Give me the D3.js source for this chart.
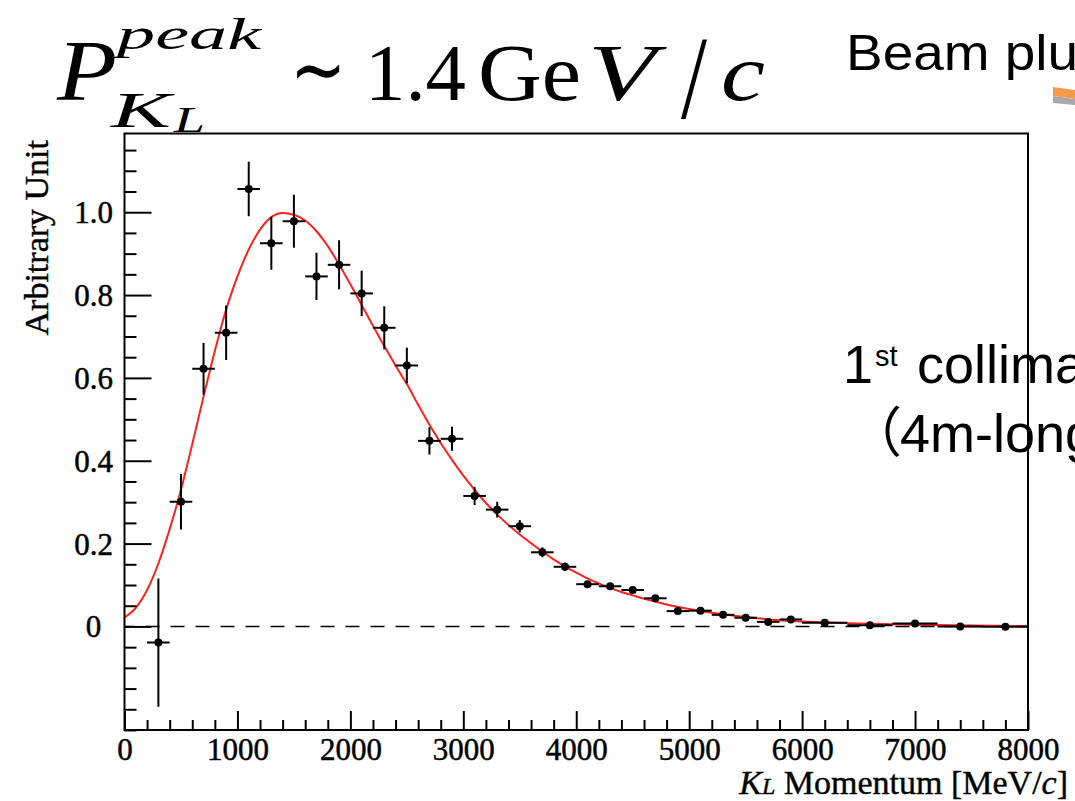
<!DOCTYPE html>
<html>
<head>
<meta charset="utf-8">
<script src="https://cdn.jsdelivr.net/npm/d3@7"></script>
<style>
  html, body { margin: 0; padding: 0; background: #fff; overflow: hidden; }
  svg { display: block; }
</style>
</head>
<body>
<div id="chart"></div>
<script>
// ---------------- data ----------------
const momentum = [300, 500, 700, 900, 1100, 1300, 1500, 1700, 1900, 2100, 2300, 2500,
  2700, 2900, 3100, 3300, 3500, 3700, 3900, 4100, 4300, 4500, 4700, 4900, 5100, 5300,
  5500, 5700, 5900, 6200, 6600, 7000, 7400, 7800];
const binHalfWidth = [100, 100, 100, 100, 100, 100, 100, 100, 100, 100, 100, 100,
  100, 100, 100, 100, 100, 100, 100, 100, 100, 100, 100, 100, 100, 100,
  100, 100, 100, 200, 200, 200, 200, 200];
const yieldValues = [-0.039, 0.301, 0.622, 0.709, 1.056, 0.925, 0.978, 0.845, 0.873, 0.804, 0.721, 0.630,
  0.448, 0.453, 0.315, 0.282, 0.242, 0.179, 0.144, 0.102, 0.097, 0.088, 0.068, 0.037, 0.038, 0.028,
  0.021, 0.011, 0.017, 0.009, 0.003, 0.007, 0.000, -0.001];
const yieldErrors = [0.155, 0.067, 0.062, 0.066, 0.066, 0.064, 0.064, 0.057, 0.059, 0.055, 0.052, 0.043,
  0.033, 0.029, 0.022, 0.019, 0.015, 0.012, 0.010, 0.008, 0.007, 0.007, 0.006, 0.005, 0.005, 0.004,
  0.004, 0.004, 0.004, 0.003, 0.003, 0.003, 0.002, 0.002];

// fitted curve
const fitMomentum = [0, 100, 200, 300, 400, 500, 600, 700, 800, 900, 1000, 1100, 1200, 1300, 1400,
  1500, 1600, 1700, 1800, 1900, 2000, 2100, 2200, 2300, 2400, 2500, 2600, 2700, 2800, 2900,
  3000, 3100, 3200, 3300, 3400, 3500, 3600, 3700, 3800, 3900, 4000, 4100, 4200, 4300, 4400,
  4500, 4600, 4700, 4800, 5000, 5200, 5400, 5600, 5800, 6000, 6500, 7000, 7500, 8000];
const fitValues = [0.022, 0.045, 0.088, 0.152, 0.235, 0.330, 0.440, 0.555, 0.665, 0.765, 0.845, 0.910, 0.958, 0.988, 0.998,
  0.994, 0.980, 0.954, 0.918, 0.874, 0.826, 0.776, 0.726, 0.677, 0.630, 0.585, 0.535, 0.487, 0.443, 0.402,
  0.364, 0.330, 0.298, 0.270, 0.245, 0.222, 0.201, 0.181, 0.162, 0.145, 0.130, 0.116, 0.104, 0.093, 0.083,
  0.075, 0.067, 0.060, 0.053, 0.042, 0.033, 0.026, 0.020, 0.015, 0.012, 0.007, 0.004, 0.002, 0.001];

const xTickValues = [0, 1000, 2000, 3000, 4000, 5000, 6000, 7000, 8000];
const xTickLabels = ["0", "1000", "2000", "3000", "4000", "5000", "6000", "7000", "8000"];
const yTickValues = [0, 0.2, 0.4, 0.6, 0.8, 1.0];
const yTickLabels = ["0", "0.2", "0.4", "0.6", "0.8", "1.0"];

// ---------------- drawing ----------------
const W = 1075, H = 801;
const serif = "'Liberation Serif', 'Times New Roman', serif";
const sans = "'Liberation Sans', Arial, sans-serif";

const svg = d3.select("#chart").append("svg")
  .attr("width", W).attr("height", H).attr("viewBox", `0 0 ${W} ${H}`)
  .style("overflow", "hidden");

const pLeft = 124.5, pRight = 1028, pTop = 133.5, pBottom = 730;
const x = d3.scaleLinear().domain([0, 8000]).range([pLeft, pRight]);
const y = d3.scaleLinear().domain([-0.25, 1.19]).range([pBottom, pTop]);

// ---- slide texts (behind the plot frame) ----
svg.append("text").attr("x", 846).attr("y", 70)
  .attr("font-family", sans).attr("font-size", 50).attr("fill", "#000")
  .attr("textLength", 232).attr("lengthAdjust", "spacingAndGlyphs")
  .text("Beam plu");

svg.append("polygon").attr("points", "1053,87 1075,90 1075,99 1053,96").attr("fill", "#f79a4a");
svg.append("polygon").attr("points", "1053,96 1075,99 1075,105 1053,103").attr("fill", "#a9a9a9");

const coll = svg.append("text").attr("font-family", sans).attr("fill", "#000");
coll.append("tspan").attr("x", 843).attr("y", 383).attr("font-size", 54).text("1");
coll.append("tspan").attr("x", 875).attr("y", 366).attr("font-size", 29).text("st");
coll.append("tspan").attr("x", 917).attr("y", 383).attr("font-size", 54).text("collima");

const coll2 = svg.append("text").attr("fill", "#000").attr("font-size", 54);
coll2.append("tspan").attr("x", 848).attr("y", 452)
  .attr("font-family", "'Noto Sans CJK JP', sans-serif").text("（");
coll2.append("tspan").attr("x", 900).attr("y", 452)
  .attr("font-family", sans).text("4m-long");

// ---- title: P_{K_L}^{peak} ~ 1.4 GeV/c ----
function mathText(str, xx, yy, size, italic, len) {
  const t = svg.append("text").attr("x", xx).attr("y", yy)
    .attr("font-family", serif).attr("font-size", size)
    .attr("font-style", italic ? "italic" : "normal").attr("fill", "#000")
    .text(str);
  if (len) t.attr("textLength", len).attr("lengthAdjust", "spacingAndGlyphs");
  return t;
}
mathText("P", 57, 100, 86, true, 60);
mathText("peak", 117, 49, 44, true, 144);
mathText("K", 111, 127, 50, true, 60);
mathText("L", 174, 132, 36, true, 31);
mathText("∼", 290, 98, 84, false, 56);
mathText("1.4", 365, 100, 81, false, 101);
mathText("Ge", 478, 100, 81, false, 103);
mathText("V", 588, 100, 81, true, 68);
mathText("/", 681, 118, 118, false, 26);
mathText("c", 721, 100, 81, true, 44);

// ---- plot ----
const plot = svg.append("g");
svg.append("clipPath").attr("id", "clip").append("rect")
  .attr("x", pLeft).attr("y", pTop).attr("width", pRight - pLeft).attr("height", pBottom - pTop);

// fitted curve
const line = d3.line().x((d, i) => x(fitMomentum[i])).y(d => y(d)).curve(d3.curveMonotoneX);
plot.append("path").attr("clip-path", "url(#clip)")
  .attr("d", line(fitValues)).attr("fill", "none")
  .attr("stroke", "#ff2020").attr("stroke-width", 2);

// zero dashed line
plot.append("line")
  .attr("x1", x(0)).attr("x2", x(8000)).attr("y1", y(0)).attr("y2", y(0))
  .attr("stroke", "#000").attr("stroke-width", 1.6)
  .attr("stroke-dasharray", "14,11").attr("stroke-dashoffset", 4);

// data points with error bars
const pts = plot.append("g").attr("clip-path", "url(#clip)").selectAll("g")
  .data(momentum.map((m, i) => ({ m, v: yieldValues[i], e: yieldErrors[i], hw: binHalfWidth[i] })))
  .join("g");
pts.append("line")
  .attr("x1", d => x(d.m)).attr("x2", d => x(d.m))
  .attr("y1", d => y(d.v - d.e)).attr("y2", d => y(d.v + d.e))
  .attr("stroke", "#000").attr("stroke-width", 2);
pts.append("line")
  .attr("x1", d => x(d.m - d.hw)).attr("x2", d => x(d.m + d.hw))
  .attr("y1", d => y(d.v)).attr("y2", d => y(d.v))
  .attr("stroke", "#000").attr("stroke-width", 2);
pts.append("circle")
  .attr("cx", d => x(d.m)).attr("cy", d => y(d.v)).attr("r", 4).attr("fill", "#000");

// axes
const xMinor = d3.range(0, 8001, 200).filter(v => v % 1000 !== 0);
const yMinor = d3.range(-25, 119, 5).map(v => v / 100).filter(v => Math.round(v * 100) % 20 !== 0 || v < 0);

const xAxisMinor = svg.append("g").attr("transform", `translate(0,${pBottom})`)
  .call(d3.axisBottom(x).tickValues(xMinor).tickSize(-10).tickFormat(""));
const xAxis = svg.append("g").attr("transform", `translate(0,${pBottom})`)
  .call(d3.axisBottom(x).tickValues(xTickValues).tickSize(-19).tickPadding(0)
    .tickFormat((d, i) => xTickLabels[i]));
const yAxisMinor = svg.append("g").attr("transform", `translate(${pLeft},0)`)
  .call(d3.axisLeft(y).tickValues(yMinor).tickSize(-12).tickFormat(""));
const yAxis = svg.append("g").attr("transform", `translate(${pLeft},0)`)
  .call(d3.axisLeft(y).tickValues(yTickValues).tickSize(-27)
    .tickFormat((d, i) => yTickLabels[i]));

[xAxisMinor, xAxis, yAxisMinor, yAxis].forEach(g => {
  g.select(".domain").remove();
  g.selectAll(".tick line").attr("stroke", "#000").attr("stroke-width", 2);
});
xAxis.selectAll(".tick text")
  .attr("font-family", serif).attr("font-size", 31).attr("fill", "#000")
  .attr("stroke", "#000").attr("stroke-width", 0.5)
  .attr("y", 30).attr("dy", 0);
yAxis.selectAll(".tick text")
  .attr("font-family", serif).attr("font-size", 31).attr("fill", "#000")
  .attr("stroke", "#000").attr("stroke-width", 0.5)
  .attr("text-anchor", "middle").attr("x", -31).attr("dy", "0.34em");

// frame
svg.append("rect").attr("x", pLeft).attr("y", pTop)
  .attr("width", pRight - pLeft).attr("height", pBottom - pTop)
  .attr("fill", "none").attr("stroke", "#000").attr("stroke-width", 2);

// axis titles
const xt = svg.append("text").attr("x", 1068).attr("y", 794)
  .attr("text-anchor", "end").attr("font-family", serif).attr("font-size", 34).attr("fill", "#000")
  .attr("stroke", "#000").attr("stroke-width", 0.4);
xt.append("tspan").attr("font-style", "italic").text("K");
xt.append("tspan").attr("font-style", "italic").attr("font-size", 24).text("L");
xt.append("tspan").text(" Momentum [MeV/");
xt.append("tspan").attr("font-style", "italic").text("c");
xt.append("tspan").text("]");

svg.append("text").attr("transform", "translate(48,140) rotate(-90)")
  .attr("text-anchor", "end").attr("font-family", serif).attr("font-size", 34).attr("fill", "#000")
  .attr("stroke", "#000").attr("stroke-width", 0.4)
  .text("Arbitrary Unit");
</script>
</body>
</html>
